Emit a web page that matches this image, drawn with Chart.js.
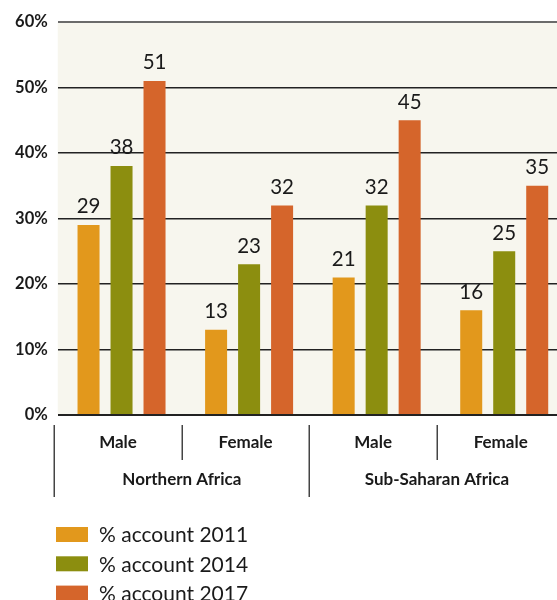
<!DOCTYPE html>
<html>
<head>
<meta charset="utf-8">
<script src="https://cdn.jsdelivr.net/npm/chart.js@4/dist/chart.umd.min.js"></script>
<style>
html,body{margin:0;padding:0;background:#fff;overflow:hidden;width:557px;height:600px;}
#wrap{width:568px;height:600px;}
</style>
</head>
<body>
<div id="wrap"><canvas id="c" width="568" height="600"></canvas></div>
<script>
const categories = ['Male', 'Female', 'Male', 'Female'];
const regions = ['Northern Africa', 'Sub-Saharan Africa'];
const seriesLabels = ['% account 2011', '% account 2014', '% account 2017'];
const account2011 = [29, 13, 21, 16];
const account2014 = [38, 23, 32, 25];
const account2017 = [51, 32, 45, 35];
const colors = ['#e2981c', '#8c8e0f', '#d5652b'];

const FONT = 'Lato, "Liberation Sans", sans-serif';
const AXIS_OFFSET = -3.5;

const bgPlugin = {
  id: 'bg',
  beforeDraw(chart) {
    const a = chart.chartArea, ctx = chart.ctx;
    ctx.save();
    ctx.fillStyle = '#f7f6ee';
    ctx.fillRect(a.left, a.top, a.right - a.left, a.bottom - a.top);
    ctx.restore();
  }
};

const labelsPlugin = {
  id: 'vals',
  afterDatasetsDraw(chart) {
    const ctx = chart.ctx;
    ctx.save();
    ctx.font = '20.5px ' + FONT;
    ctx.fillStyle = '#1a1a1a';
    ctx.textAlign = 'center';
    ctx.textBaseline = 'bottom';
    chart.data.datasets.forEach((ds, di) => {
      chart.getDatasetMeta(di).data.forEach((bar, i) => {
        ctx.fillText(String(ds.data[i]), bar.x, bar.y - 8);
      });
    });
    ctx.restore();
  }
};

const axisPlugin = {
  id: 'groups',
  afterDraw(chart) {
    const ctx = chart.ctx, x = chart.scales.x, a = chart.chartArea;
    const n = categories.length;
    const step = (x.getPixelForValue(1) - x.getPixelForValue(0));
    const bound = i => x.getPixelForValue(0) - step / 2 + i * step + AXIS_OFFSET;
    ctx.save();
    ctx.strokeStyle = '#444';
    ctx.lineWidth = 1.5;
    for (let i = 0; i < n; i++) {
      const bx = Math.round(bound(i)) + 0.25;
      const long = i % 2 === 0;
      ctx.beginPath();
      ctx.moveTo(bx, a.bottom + 10);
      ctx.lineTo(bx, long ? a.bottom + 82 : a.bottom + 45);
      ctx.stroke();
    }
    ctx.fillStyle = '#1a1a1a';
    ctx.font = 'bold 17px ' + FONT;
    ctx.textAlign = 'center';
    ctx.textBaseline = 'middle';
    categories.forEach((c, i) => {
      ctx.fillText(c, (bound(i) + bound(i + 1)) / 2, a.bottom + 28);
    });
    regions.forEach((r, i) => {
      ctx.fillText(r, (bound(2 * i) + bound(2 * i + 2)) / 2, a.bottom + 65);
    });
    // legend
    ctx.font = '21px ' + FONT;
    ctx.textAlign = 'left';
    chart.data.datasets.forEach((ds, di) => {
      const cy = 534.5 + di * 29.3;
      ctx.fillStyle = ds.backgroundColor;
      ctx.fillRect(56, cy - 7.5, 32, 15);
      ctx.fillStyle = '#1a1a1a';
      ctx.fillText(ds.label, 99, cy + 1);
    });
    ctx.restore();
  }
};

new Chart(document.getElementById('c'), {
  type: 'bar',
  data: {
    labels: categories,
    datasets: [
      { label: seriesLabels[0], data: account2011, backgroundColor: colors[0] },
      { label: seriesLabels[1], data: account2014, backgroundColor: colors[1] },
      { label: seriesLabels[2], data: account2017, backgroundColor: colors[2] }
    ]
  },
  options: {
    responsive: false,
    animation: false,
    devicePixelRatio: 1,
    layout: { padding: { top: 22, left: 0, right: 0, bottom: 0 } },
    datasets: { bar: { barPercentage: 0.667, categoryPercentage: 0.776 } },
    plugins: { legend: { display: false }, tooltip: { enabled: false } },
    scales: {
      x: {
        grid: { display: false },
        border: { display: false },
        ticks: { display: false },
        afterFit(s) { s.height = 185; }
      },
      y: {
        min: 0, max: 60,
        border: { display: false },
        grid: {
          drawTicks: false,
          color: ctx => ctx.tick.value === 60 ? '#6b6b6b' : '#222',
          lineWidth: ctx => (ctx.tick.value === 60 || ctx.tick.value === 0) ? 2 : 1.5
        },
        ticks: {
          stepSize: 10,
          padding: 10,
          color: '#1a1a1a',
          font: { family: FONT, size: 16.5, weight: 'bold' },
          callback: v => v + '%'
        },
        afterFit(s) { s.width = 57.75; }
      }
    }
  },
  plugins: [bgPlugin, labelsPlugin, axisPlugin]
});
</script>
</body>
</html>
